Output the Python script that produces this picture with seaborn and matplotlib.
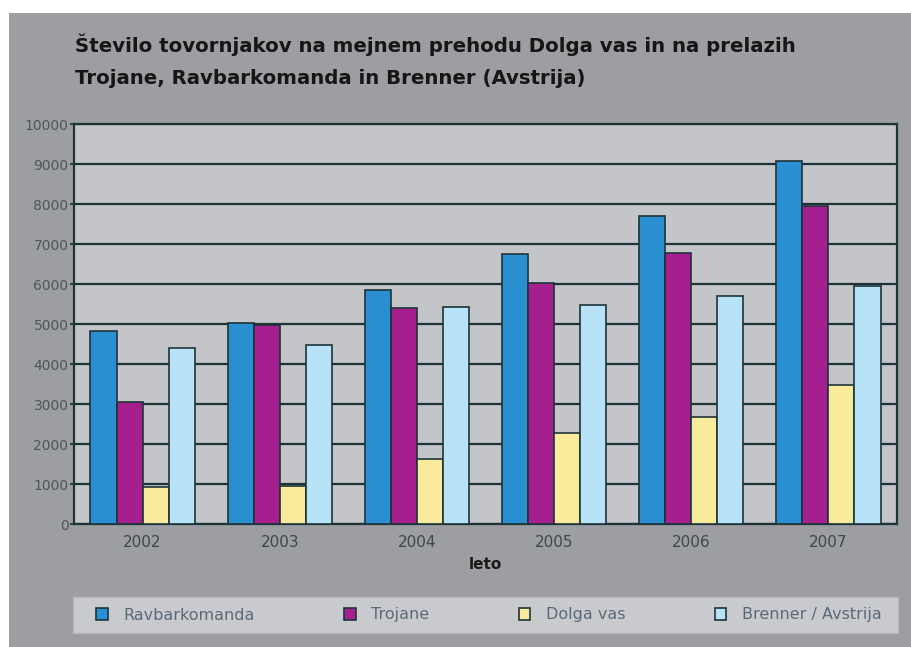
import matplotlib
matplotlib.use("Agg")
import matplotlib.pyplot as plt
import seaborn as sns
import pandas as pd
from matplotlib.patches import Rectangle, Patch

years = ["2002", "2003", "2004", "2005", "2006", "2007"]
series = ["Ravbarkomanda", "Trojane", "Dolga vas", "Brenner / Avstrija"]
ravbarkomanda = [4820, 5020, 5850, 6750, 7700, 9080]
trojane = [3040, 4970, 5400, 6020, 6780, 7950]
dolga_vas = [930, 960, 1630, 2280, 2670, 3470]
brenner = [4400, 4470, 5430, 5470, 5690, 5940]
yticks = list(range(0, 10001, 1000))
title = ("Število tovornjakov na mejnem prehodu Dolga vas in na prelazih\n"
         "Trojane, Ravbarkomanda in Brenner (Avstrija)")
xlabel = "leto"

colors = ["#2a8fd0", "#a61f8e", "#faeb9c", "#b8e3f6"]

rows = []
for name, vals in zip(series, [ravbarkomanda, trojane, dolga_vas, brenner]):
    for y, v in zip(years, vals):
        rows.append({"leto": y, "serija": name, "vrednost": v})
df = pd.DataFrame(rows)

sns.set_theme(style="white")
plt.rcParams["font.family"] = ["DejaVu Sans"]

W, H = 912, 647
fig = plt.figure(figsize=(W / 100, H / 100), dpi=100, facecolor="white")
bg = "#9d9ea2"
fig.patches.append(Rectangle((9 / W, 0), 1 - 9 / W, 1 - 13 / H,
                             transform=fig.transFigure, facecolor=bg,
                             edgecolor="none", zorder=-10))

ax = fig.add_axes([74 / W, 1 - 524 / H, (897 - 74) / W, (524 - 124) / H])
ax.set_facecolor("#c4c5c9")

sns.barplot(data=df, x="leto", y="vrednost", hue="serija", order=years,
            hue_order=series, palette=colors, saturation=1, width=0.76, ax=ax,
            edgecolor="#1c3438", linewidth=1.2, legend=False, zorder=3)

ax.set_ylim(0, 10000)
ax.set_yticks(yticks)
ax.set_yticklabels([str(t) for t in yticks], color="#4f565c", fontsize=10)
ax.tick_params(axis="y", length=3, width=1.2, color="#1c3438", pad=1, left=True)
ax.tick_params(axis="x", length=0, pad=8, labelsize=11, labelcolor="#3f464c")
ax.grid(axis="y", color="#1c3438", linewidth=1.6, zorder=0)
ax.set_axisbelow(True)
for s in ax.spines.values():
    s.set_color("#1c3438")
    s.set_linewidth(1.6)
ax.set_xlabel(xlabel, fontsize=11, fontweight="bold", color="#1a1a1a", labelpad=5)
ax.set_ylabel("")

fig.text(75 / W, 1 - 34 / H, title, fontsize=14.2, fontweight="bold",
         color="#161616", va="top", ha="left", linespacing=1.8)

# legend box
fig.patches.append(Rectangle((73 / W, 1 - 633 / H), (898 - 73) / W, 36 / H,
                             transform=fig.transFigure, facecolor="#c9cacd",
                             edgecolor="#b5b6b9", linewidth=1, zorder=1))
handles = [Patch(facecolor=c, edgecolor="#1c3438", linewidth=1.2) for c in colors]
leg = fig.legend(handles, series, loc="center left",
                 bbox_to_anchor=(82 / W, 1 - 615 / H), ncol=4, frameon=False,
                 fontsize=11.5, handlelength=0.7, handleheight=0.8,
                 handletextpad=1.0, columnspacing=5.6)
for t in leg.get_texts():
    t.set_color("#5b6a78")

fig.savefig("out.png", dpi=100, facecolor="white")
